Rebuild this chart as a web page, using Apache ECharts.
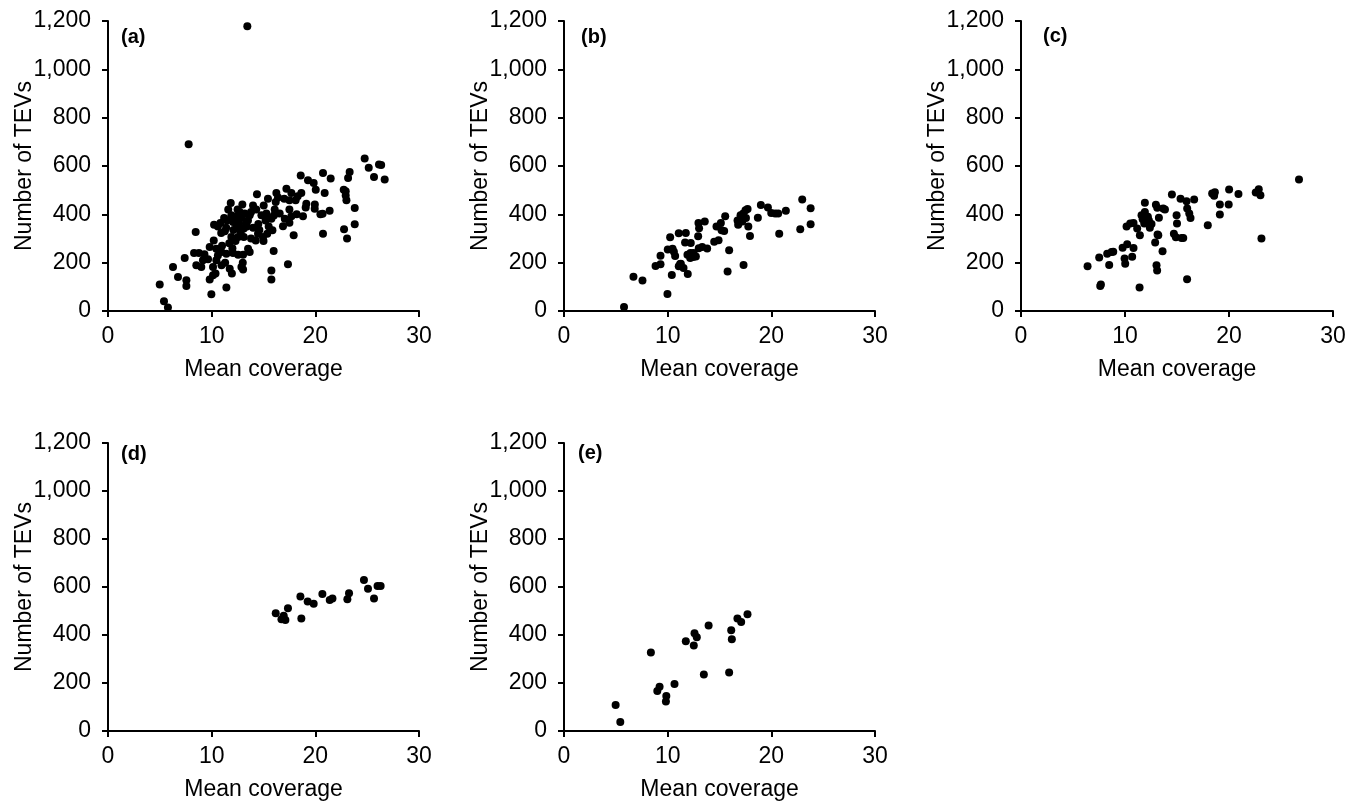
<!DOCTYPE html>
<html>
<head>
<meta charset="utf-8">
<script src="https://cdn.jsdelivr.net/npm/echarts@6/dist/echarts.min.js"></script>
<style>
html,body{margin:0;padding:0;background:#fff;}
#chart{width:1359px;height:802px;}
</style>
</head>
<body>
<div id="chart"></div>
<script>
// ---- data ----
const panelLabels = ['(a)', '(b)', '(c)', '(d)', '(e)'];
const xAxisTitle = 'Mean coverage';
const yAxisTitle = 'Number of TEVs';
const xTicks = [0, 10, 20, 30];
const yTicks = [0, 200, 400, 600, 800, 1000, 1200];

const dataA = [
  [13.44,1178],[7.78,690],
  [14.37,483],[15.43,465],[11.84,447],[12.96,441],[13.99,437],[15.02,437],[16.18,451],[12.7,410],[11.9,396],[12.4,392],[13.19,403],[13.67,396],[14.8,396],[15.28,403],[15.76,382],[11.48,375],[12.06,368],[12.6,362],[13.3,362],[10.84,364],[10.23,357],[10.6,350],[11.4,344],[12.4,348],[13.1,341],[11.27,330],[8.46,327],[10.92,323],[11.9,306],[12.56,306],[13.1,306],[14.47,320],[14.95,306],[15.36,320],[14.25,292],[15.0,290],[10.2,292],[9.81,265],[10.45,258],[8.3,240],[8.77,240],[10.94,244],[11.42,237],[12.06,240],[12.55,233],[13.03,233],[13.51,258],[13.67,244],[7.4,219],[9.16,210],[9.65,214],[10.45,210],[8.52,189],[9.0,182],[10.13,182],[10.95,189],[11.74,175],[12.87,182],[13.03,172],[10.13,148],[10.37,155],[11.95,155],[9.81,130],[6.27,182],[6.75,141],[7.56,127],[7.56,103],[4.99,110],[11.42,97],[9.97,69],[15.76,168],[15.76,130],[15.98,248],[5.4,40],[5.78,14],
  [24.76,631],[25.15,593],[26.14,606],[26.35,604],[25.66,555],[26.69,544],[20.74,571],[21.48,548],[23.31,575],[23.16,550],[18.59,561],[19.29,541],[19.84,530],[20.04,502],[20.9,488],[22.74,502],[22.93,478],[23.0,458],[22.93,496],[16.24,488],[17.21,506],[17.69,488],[18.65,488],[17.0,465],[17.5,458],[18.1,458],[19.13,444],[19.95,441],[19.07,428],[19.94,423],[20.49,400],[20.7,402],[21.38,415],[23.8,426],[23.8,359],[22.77,338],[23.06,300],[20.74,320],[18.81,392],[17.91,313],[16.08,420],[16.56,403],[17.05,382],[17.69,392],[17.5,365],[16.88,351],[15.86,334],[17.36,193],
  [12.2,380],[12.9,385],[13.5,375],[11.6,420],[14.0,345],[12.3,290],[13.8,300],[11.0,270],[12.0,260],[9.3,235],[10.6,230],[14.5,360],[15.5,350],[14.3,420],[17.5,420],[18.2,400],[16.4,470],[18.3,475],[13.0,200],[11.3,200],
  [12.5,420],[13.8,410],[11.2,385],[12.8,325],[14.6,335],[15.2,375],[16.0,395],[13.4,350],[12.1,335],[11.7,280]
];
const dataB = [
  [5.79,17],[6.70,142],[7.57,126],[9.98,70],[8.83,186],[9.31,193],[9.31,229],[10.40,149],[10.24,305],[10.01,255],[10.47,258],[10.72,228],[11.07,185],[11.27,196],[11.53,178],[11.94,153],[11.07,322],[11.75,323],[11.68,283],[12.23,281],[11.91,233],[12.2,240],[12.46,223],[12.72,226],[12.17,219],[12.94,309],[13.03,342],[12.97,364],[13.58,370],[13.33,265],[13.81,259],[14.49,287],[14.91,293],[14.71,350],[15.13,364],[15.2,334],[15.55,392],[15.45,331],[15.93,251],[15.78,163],[16.74,375],[16.8,357],[17.03,396],[17.29,403],[17.32,190],[17.51,417],[17.71,422],[17.78,350],[17.94,310],[17.55,385],[18.7,386],[18.99,439],[19.67,428],[19.99,406],[20.37,403],[20.66,403],[20.76,320],[21.4,415],[22.79,338],[22.98,461],[23.79,425],[23.79,359],
  [10.6,245],[12.5,240],[13.0,260],[17.2,370],[11.2,195]
];
const dataC = [
  [6.4,185],[7.52,221],[7.68,110],[7.62,103],[8.48,190],[8.29,237],[8.71,244],[8.87,245],[9.77,262],[9.96,217],[10.02,196],[10.21,276],[10.69,225],[10.82,261],[10.15,350],[10.5,362],[10.82,364],[11.17,341],[11.43,313],[11.91,448],[11.59,396],[11.91,410],[12.07,383],[11.85,362],[12.3,374],[12.55,360],[12.39,345],[12.9,283],[12.97,440],[13.1,427],[13.26,386],[13.13,317],[13.2,313],[13.03,189],[13.09,168],[13.61,247],[13.67,424],[13.84,420],[14.51,482],[14.7,320],[14.89,305],[14.96,396],[15.0,362],[15.34,465],[15.44,302],[15.6,302],[15.92,454],[15.98,424],[16.18,403],[16.3,385],[15.97,131],[16.65,461],[17.96,355],[18.38,486],[18.64,491],[18.57,477],[19.12,441],[19.12,399],[20.01,503],[19.97,441],[20.91,484],[22.57,490],[22.86,504],[23.02,479],[23.12,300],[26.73,544],
  [11.4,97],[12.2,390],[11.7,380]
];
const dataD = [
  [16.18,491],[16.73,466],[17.11,463],[17.36,511],[16.95,480],[18.56,560],[18.65,469],[19.26,540],[19.84,530],[20.68,571],[21.39,546],[21.65,552],[23.25,574],[23.09,549],[24.69,629],[25.08,593],[26.0,604],[26.3,604],[25.66,552]
];
const dataE = [
  [4.98,108],[5.43,37],[8.38,327],[9.0,167],[9.22,184],[9.87,146],[9.83,123],[10.66,196],[11.75,374],[12.59,407],[12.81,391],[12.52,356],[13.49,235],[13.95,440],[15.93,244],[16.13,420],[16.19,382],[16.73,469],[17.09,454],[17.7,486]
];
const allData = [dataA, dataB, dataC, dataD, dataE];

// ---- layout ----
const grids = [
  {left:108, top:21, width:311, height:290},
  {left:564, top:21, width:311, height:290},
  {left:1021, top:21, width:312, height:290},
  {left:108, top:443, width:311, height:290},
  {left:564, top:443, width:311, height:290}
];
const labelPos = [[121,37],[581,37],[1043,36],[121,454],[578,453]];

const FONT = '"Liberation Sans", Arial, Helvetica, sans-serif';
const fmt = v => String(v).replace(/\B(?=(\d{3})+(?!\d))/g, ',');

const axisLine = {show:true, onZero:false, lineStyle:{color:'#000', width:2}};
const axisTick = {show:true, inside:false, length:6, lineStyle:{color:'#000', width:2}};

const option = {
  backgroundColor:'#fff',
  animation:false,
  grid: grids.map(g => Object.assign({containLabel:false}, g)),
  xAxis: grids.map((g,i) => ({
    type:'value', gridIndex:i, min:xTicks[0], max:xTicks[xTicks.length-1], interval:xTicks[1]-xTicks[0],
    name:xAxisTitle, nameLocation:'middle', nameGap:47, nameMoveOverlap:false,
    nameTextStyle:{fontFamily:FONT, fontSize:23, color:'#000'},
    axisLine, axisTick, splitLine:{show:false},
    axisLabel:{fontFamily:FONT, fontSize:23, color:'#000', margin:14, formatter:fmt}
  })),
  yAxis: grids.map((g,i) => ({
    type:'value', gridIndex:i, min:yTicks[0], max:yTicks[yTicks.length-1], interval:yTicks[1]-yTicks[0],
    name:yAxisTitle, nameLocation:'middle', nameGap:72, nameRotate:90, nameMoveOverlap:false,
    nameTextStyle:{fontFamily:FONT, fontSize:23, color:'#000'},
    axisLine, axisTick, splitLine:{show:false},
    axisLabel:{fontFamily:FONT, fontSize:23, color:'#000', margin:17, formatter:fmt}
  })),
  series: allData.map((d,i) => ({
    type:'scatter', xAxisIndex:i, yAxisIndex:i, data:d,
    symbol:'circle', symbolSize:8, itemStyle:{color:'#000', opacity:1}
  })),
  graphic: panelLabels.map((t,i) => ({
    type:'text', left:labelPos[i][0], top:labelPos[i][1]-10,
    style:{text:t, font:'bold 20px ' + FONT, fill:'#000'}
  }))
};

const chart = echarts.init(document.getElementById('chart'), null, {renderer:'canvas'});
chart.setOption(option);
</script>
</body>
</html>
